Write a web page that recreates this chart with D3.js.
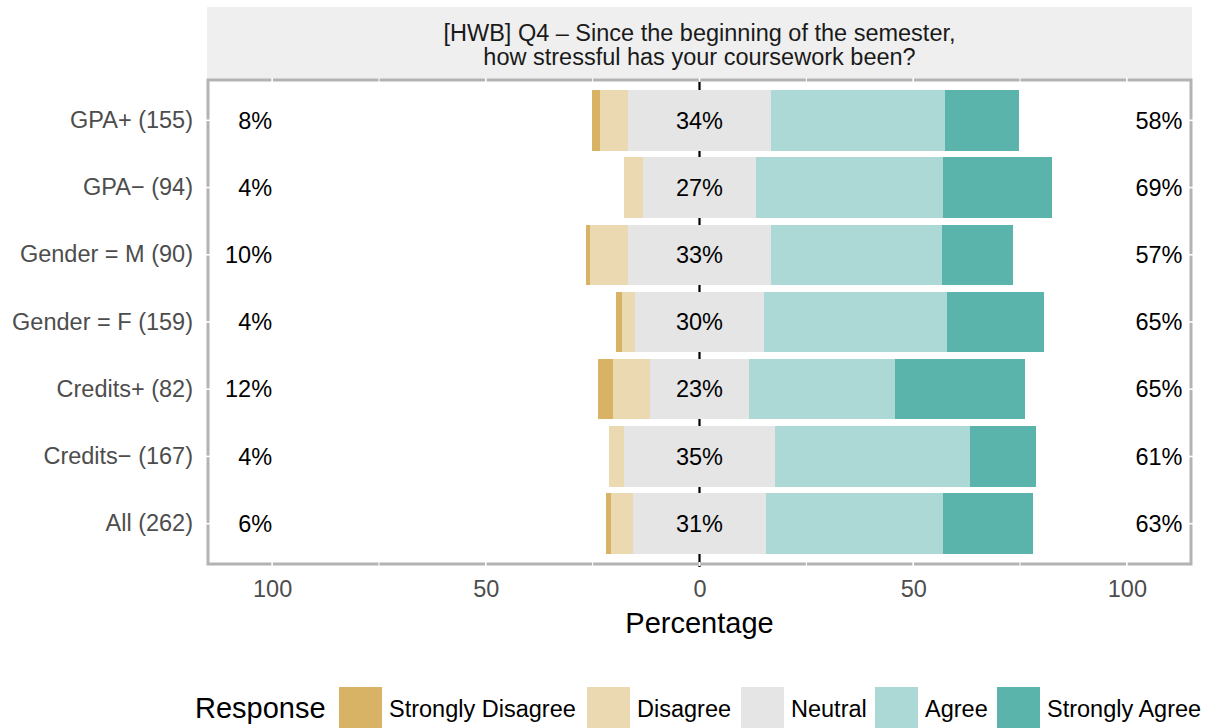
<!DOCTYPE html>
<html>
<head>
<meta charset="utf-8">
<script src="https://cdn.jsdelivr.net/npm/d3@7"></script>
<style>
  html, body { margin: 0; padding: 0; background: #ffffff; }
  svg { display: block; font-family: "Liberation Sans", Arial, Helvetica, sans-serif; }
</style>
</head>
<body>
<svg id="chart" width="1218" height="728"></svg>
<script>
// ---------------- DATA ----------------
const categories = ["GPA+ (155)", "GPA\u2212 (94)", "Gender = M (90)", "Gender = F (159)", "Credits+ (82)", "Credits\u2212 (167)", "All (262)"];
const responses = ["Strongly Disagree", "Disagree", "Neutral", "Agree", "Strongly Agree"];
const stronglyDisagree = [1.94, 0.0, 1.11, 1.26, 3.66, 0.0, 1.15];
const disagree         = [6.45, 4.26, 8.89, 3.14, 8.54, 3.59, 5.34];
const neutral          = [33.55, 26.60, 33.33, 30.19, 23.17, 35.33, 30.92];
const agree            = [40.65, 43.62, 40.00, 42.77, 34.15, 45.51, 41.60];
const stronglyAgree    = [17.42, 25.53, 16.67, 22.64, 30.49, 15.57, 20.99];
const xTickValues = [-100, -50, 0, 50, 100];
const xTickLabels = ["100", "50", "0", "50", "100"];
const titleLines = ["[HWB] Q4 \u2013 Since the beginning of the semester,", "how stressful has your coursework been?"];
const xTitle = "Percentage";
const legendTitle = "Response";

// ---------------- STYLE / LAYOUT ----------------
const colors = ["#d8b365", "#ebd9b2", "#e5e5e5", "#acd9d5", "#5ab4ac"];
const panel = { x0: 208, x1: 1191, y0: 80, y1: 564 };
const fontSize = 23.5;
const titleSize = 29;
const legendKeyX = [339, 587, 741, 875, 997];

const svg = d3.select("#chart");

const x = d3.scaleLinear().domain([-115, 115]).range([panel.x0, panel.x1]);
const y = d3.scaleBand().domain(categories).range([panel.y0, panel.y1])
  .paddingInner(0.1).paddingOuter(0.15);

// strip header
svg.append("rect").attr("x", panel.x0 - 1).attr("y", 7)
  .attr("width", panel.x1 - panel.x0 + 2).attr("height", panel.y0 - 7)
  .attr("fill", "#efefef");
svg.append("g").selectAll("text").data(titleLines).join("text")
  .attr("x", (panel.x0 + panel.x1) / 2)
  .attr("y", (d, i) => 41 + i * 24)
  .attr("text-anchor", "middle")
  .attr("font-size", fontSize)
  .attr("fill", "#1a1a1a")
  .text(d => d);

// zero line (behind bars)
svg.append("line")
  .attr("x1", x(0)).attr("x2", x(0))
  .attr("y1", panel.y0).attr("y2", panel.y1 + 3)
  .attr("stroke", "#000").attr("stroke-width", 2.2);

// build segments
const rows = categories.map((c, i) => {
  const vals = [stronglyDisagree[i], disagree[i], neutral[i], agree[i], stronglyAgree[i]];
  const segs = [];
  const n2 = vals[2] / 2;
  // negative side
  segs.push({ cat: c, k: 2, a: -n2, b: 0 });
  segs.push({ cat: c, k: 1, a: -n2 - vals[1], b: -n2 });
  segs.push({ cat: c, k: 0, a: -n2 - vals[1] - vals[0], b: -n2 - vals[1] });
  // positive side
  segs.push({ cat: c, k: 2, a: 0, b: n2 });
  segs.push({ cat: c, k: 3, a: n2, b: n2 + vals[3] });
  segs.push({ cat: c, k: 4, a: n2 + vals[3], b: n2 + vals[3] + vals[4] });
  return { cat: c, vals, segs };
});

svg.append("g").selectAll("rect")
  .data(rows.flatMap(r => r.segs).filter(s => s.b - s.a > 0))
  .join("rect")
  .attr("x", s => x(s.a))
  .attr("width", s => x(s.b) - x(s.a))
  .attr("y", s => y(s.cat))
  .attr("height", y.bandwidth())
  .attr("fill", s => colors[s.k])
  .attr("shape-rendering", "crispEdges");

// percent labels
const lab = svg.append("g").attr("font-size", fontSize).attr("fill", "#000");
rows.forEach(r => {
  const cy = y(r.cat) + y.bandwidth() / 2;
  const low = Math.round(r.vals[0] + r.vals[1]);
  const mid = Math.round(r.vals[2]);
  const high = Math.round(r.vals[3] + r.vals[4]);
  lab.append("text").attr("x", x(-100)).attr("y", cy).attr("dy", "0.35em")
    .attr("text-anchor", "end").text(low + "%");
  lab.append("text").attr("x", x(0)).attr("y", cy).attr("dy", "0.35em")
    .attr("text-anchor", "middle").text(mid + "%");
  lab.append("text").attr("x", x(113)).attr("y", cy).attr("dy", "0.35em")
    .attr("text-anchor", "end").text(high + "%");
});

// panel border
svg.append("rect")
  .attr("x", panel.x0).attr("y", panel.y0)
  .attr("width", panel.x1 - panel.x0).attr("height", panel.y1 - panel.y0)
  .attr("fill", "none").attr("stroke", "#b3b3b3").attr("stroke-width", 3);

// white grid notches through border
const gridX = d3.range(-100, 101, 25);
const gridG = svg.append("g").attr("stroke", "#fff");
gridX.forEach(v => {
  const w = (v % 50 === 0) ? 1.6 : 1;
  gridG.append("line").attr("x1", x(v)).attr("x2", x(v)).attr("y1", panel.y0 - 2).attr("y2", panel.y0 + 2).attr("stroke-width", w);
  gridG.append("line").attr("x1", x(v)).attr("x2", x(v)).attr("y1", panel.y1 - 2).attr("y2", panel.y1 + 2).attr("stroke-width", w);
});
categories.forEach(c => {
  const cy = y(c) + y.bandwidth() / 2;
  gridG.append("line").attr("x1", panel.x0 - 2).attr("x2", panel.x0 + 2).attr("y1", cy).attr("y2", cy).attr("stroke-width", 1.6);
  gridG.append("line").attr("x1", panel.x1 - 2).attr("x2", panel.x1 + 2).attr("y1", cy).attr("y2", cy).attr("stroke-width", 1.6);
});

// x axis
const xAxis = d3.axisBottom(x).tickValues(xTickValues)
  .tickFormat((d, i) => xTickLabels[i]).tickSize(0).tickPadding(0);
const xg = svg.append("g").attr("transform", `translate(0, ${panel.y1})`).call(xAxis);
xg.select(".domain").remove();
xg.selectAll("text").attr("font-size", fontSize).attr("fill", "#4d4d4d")
  .attr("font-family", "Liberation Sans, Arial, sans-serif")
  .attr("dy", null).attr("y", 33);

// y axis
const yAxis = d3.axisLeft(y).tickSize(0).tickPadding(0);
const yg = svg.append("g").attr("transform", `translate(193, 0)`).call(yAxis);
yg.select(".domain").remove();
yg.selectAll("text").attr("font-size", fontSize).attr("fill", "#4d4d4d")
  .attr("font-family", "Liberation Sans, Arial, sans-serif");

// x title
svg.append("text").attr("x", x(0)).attr("y", 633)
  .attr("text-anchor", "middle").attr("font-size", titleSize).attr("fill", "#000")
  .text(xTitle);

// legend
const lg = svg.append("g");
lg.append("text").attr("x", 195).attr("y", 718).attr("font-size", titleSize).attr("fill", "#000").text(legendTitle);
responses.forEach((r, i) => {
  lg.append("rect").attr("x", legendKeyX[i]).attr("y", 687).attr("width", 43).attr("height", 43).attr("fill", colors[i]);
  lg.append("text").attr("x", legendKeyX[i] + 50).attr("y", 717).attr("font-size", fontSize).attr("fill", "#000").text(r);
});
</script>
</body>
</html>
